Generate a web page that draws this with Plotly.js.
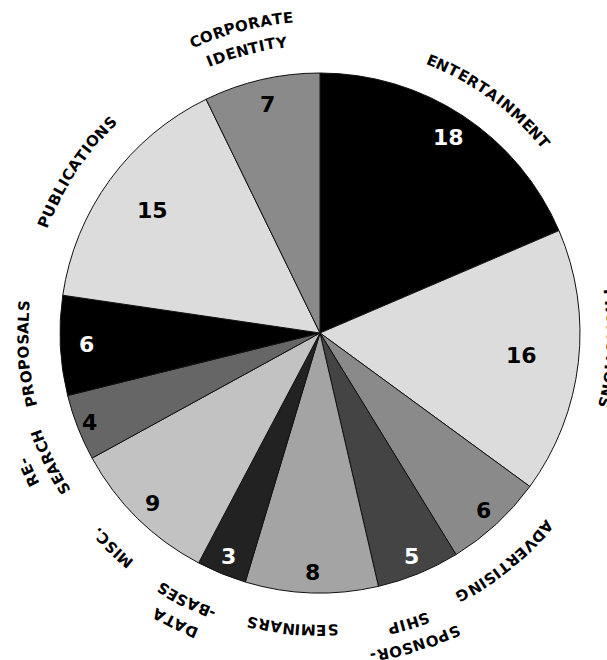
<!DOCTYPE html>
<html>
<head>
<meta charset="utf-8">
<script src="https://cdn.plot.ly/plotly-3.0.1.min.js"></script>
<style>
  html, body { margin: 0; padding: 0; background: #ffffff; }
  #chart { width: 607px; height: 660px; }
</style>
</head>
<body>
<div id="chart"></div>
<script>
// Work mix by category (slices run clockwise from 12 o'clock)
const categories = ['ENTERTAINMENT', 'PROMOTIONS', 'ADVERTISING', 'SPONSOR-<br>SHIP', 'SEMINARS',
                    'DATA<br>-BASES', 'MISC.', 'RE-<br>SEARCH', 'PROPOSALS', 'PUBLICATIONS',
                    'CORPORATE<br>IDENTITY'];
const values = [18, 16, 6, 5, 8, 3, 9, 4, 6, 15, 7];

// Styling
const sliceColors = ['#000000', '#dcdcdc', '#8a8a8a', '#444444', '#a4a4a4', '#222222',
                     '#c2c2c2', '#666666', '#000000', '#dcdcdc', '#8a8a8a'];
const valueColors = ['#ffffff', '#000000', '#000000', '#ffffff', '#000000', '#ffffff',
                     '#000000', '#000000', '#ffffff', '#000000', '#000000'];

// Geometry of the figure (pixels)
const W = 607, H = 660, CX = 320, CY = 333, R = 260;
// radial position of the value figures, as a fraction of the pie radius
const valueRadius = [0.90, 0.78, 0.93, 0.93, 0.92, 0.93, 0.92, 0.95, 0.90, 0.80, 0.90];
// curved category labels: centre angle (deg, clockwise from top) and radius of each line
const labelPlacement = [
  { theta: 36,    radii: [294] },
  { theta: 93,    radii: [292] },
  { theta: 141,   radii: [298] },
  { theta: 163,   radii: [327, 304] },
  { theta: 185.4, radii: [297] },
  { theta: 206.5, radii: [324, 300] },
  { theta: 224,   radii: [299] },
  { theta: 244.5, radii: [323, 300] },
  { theta: 266,   radii: [297] },
  { theta: 303.5, radii: [297] },
  { theta: 345.5, radii: [317, 293] }
];

const LABEL_SIZE = 15;
const LABEL_FONT = { family: 'DejaVu Sans, sans-serif', size: LABEL_SIZE, color: '#000000' };
const TRACK = 0.6;   // extra spacing between letters along the arc

const ctx = document.createElement('canvas').getContext('2d');
ctx.font = "bold " + LABEL_SIZE + "px 'DejaVu Sans'";

function toPaper(px, py) { return { x: px / W, y: 1 - py / H }; }

function normDeg(d) { return ((d + 180) % 360 + 360) % 360 - 180; }

// Lay a string out letter by letter along a circle around the pie centre
function arcText(text, thetaDeg, r, out) {
  const chars = [...text];
  const widths = chars.map(c => ctx.measureText(c).width);
  const total = widths.reduce((a, b) => a + b, 0) + TRACK * (chars.length - 1);
  let s = -total / 2;
  chars.forEach((c, i) => {
    const mid = s + widths[i] / 2;
    const a = thetaDeg * Math.PI / 180 + mid / r;
    const p = toPaper(CX + r * Math.sin(a), CY - r * Math.cos(a));
    out.push({
      xref: 'paper', yref: 'paper', x: p.x, y: p.y, text: '<b>' + c + '</b>',
      showarrow: false, textangle: normDeg(a * 180 / Math.PI),
      xanchor: 'center', yanchor: 'middle', borderpad: 0, font: LABEL_FONT
    });
    s += widths[i] + TRACK;
  });
}

const annotations = [];
const total = values.reduce((a, b) => a + b, 0);
let cum = 0;
values.forEach((v, i) => {
  // value figure inside the slice
  const midDeg = (cum + v / 2) / total * 360;
  const a = midDeg * Math.PI / 180;
  const rr = R * valueRadius[i];
  const p = toPaper(CX + rr * Math.sin(a), CY - rr * Math.cos(a));
  annotations.push({
    xref: 'paper', yref: 'paper', x: p.x, y: p.y, text: '<b>' + v + '</b>',
    showarrow: false, xanchor: 'center', yanchor: 'middle',
    font: { family: 'DejaVu Sans, sans-serif', size: 22, color: valueColors[i] }
  });
  cum += v;

  // category name around the rim
  const lines = categories[i].split('<br>');
  lines.forEach((ln, k) => arcText(ln, labelPlacement[i].theta, labelPlacement[i].radii[k], annotations));
});

const trace = {
  type: 'pie',
  labels: categories,
  values: values,
  sort: false,
  direction: 'clockwise',
  rotation: 0,
  textinfo: 'none',
  hoverinfo: 'skip',
  marker: { colors: sliceColors, line: { color: '#111111', width: 1 } },
  domain: { x: [(CX - R) / W, (CX + R) / W], y: [1 - (CY + R) / H, 1 - (CY - R) / H] },
  showlegend: false
};

const layout = {
  width: W, height: H,
  margin: { l: 0, r: 0, t: 0, b: 0 },
  paper_bgcolor: '#ffffff',
  showlegend: false,
  annotations: annotations
};

Plotly.newPlot('chart', [trace], layout, { displayModeBar: false, staticPlot: true });
</script>
</body>
</html>
